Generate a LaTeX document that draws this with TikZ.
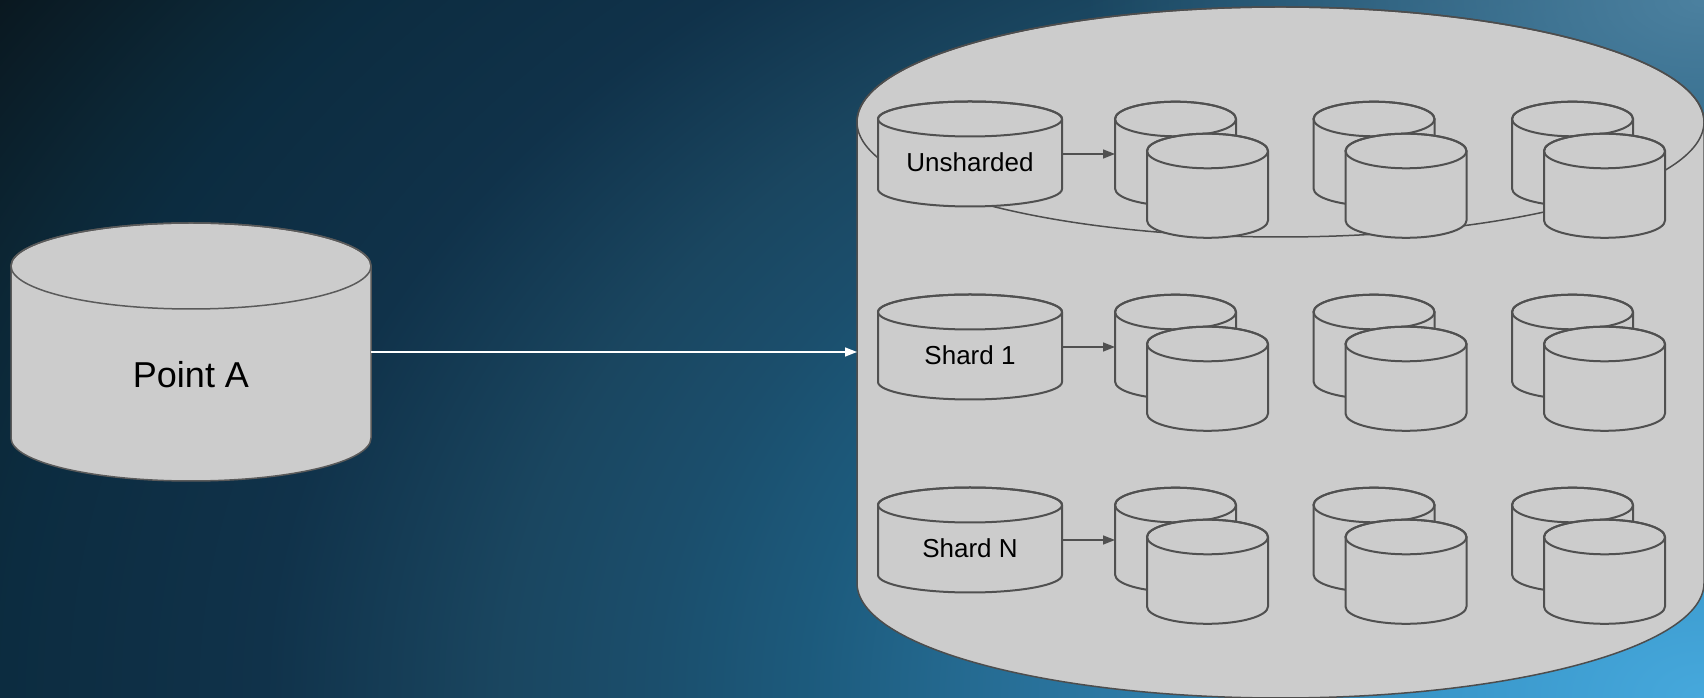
\documentclass[tikz,border=0pt]{standalone}
\usepackage{fontspec}
\setmainfont{Liberation Sans}
\usetikzlibrary{arrows.meta,fadings}
\definecolor{bg0}{HTML}{46A8DC}
\definecolor{bg1}{HTML}{3A98CB}
\definecolor{bg2}{HTML}{2C78A3}
\definecolor{bg3}{HTML}{1C5A7C}
\definecolor{bg4}{HTML}{1B4E6C}
\definecolor{bg5}{HTML}{1A4660}
\definecolor{bg6}{HTML}{10324A}
\definecolor{bg7}{HTML}{0C2C40}
\definecolor{bg8}{HTML}{0C2736}
\definecolor{bg9}{HTML}{0A1820}
\definecolor{glowc}{HTML}{4C81A0}
\definecolor{cylfill}{HTML}{CCCCCC}
\definecolor{edgebig}{HTML}{4D4D4D}
\definecolor{edgeA}{HTML}{5A5A5A}
\definecolor{edgesmall}{HTML}{505050}
\pgfdeclareradialshading{bgshade}{\pgfpoint{0bp}{0bp}}{color(0bp)=(bg0); color(2.976bp)=(bg1); color(7.143bp)=(bg2); color(10.714bp)=(bg3); color(12.5bp)=(bg4); color(14.286bp)=(bg5); color(17.143bp)=(bg6); color(20.238bp)=(bg7); color(21.429bp)=(bg8); color(23.81bp)=(bg9); color(50bp)=(bg9)}
\tikzfading[name=glowfade, inner color=transparent!0, outer color=transparent!100]
\tikzset{
  pics/cyl/.style n args={3}{code={
    \filldraw[fill=cylfill] (-#1,0) -- (-#1,-#3) arc[start angle=180,end angle=360,x radius=#1,y radius=#2] -- (#1,0) arc[start angle=0,end angle=180,x radius=#1,y radius=#2] -- cycle;
    \draw (0,0) ellipse[x radius=#1,y radius=#2];
    \node[inner sep=0pt,outer sep=0pt,minimum width=2*#1,minimum height=#3] (-b) at (0,-#3/2) {};
  }},
  bigcyl/.style={color=edgebig,line width=1.5pt},
  pointcyl/.style={color=edgeA,line width=1.5pt},
  smallcyl/.style={color=edgesmall,line width=2pt},
  bigtext/.style={text=black,font=\fontsize{36}{43}\selectfont},
  smalltext/.style={text=black,font=\fontsize{26}{31}\selectfont},
  whitearrow/.style={draw=white,line width=1.5pt,-{Triangle[length=12pt,width=9pt]}},
  grayarrow/.style={draw=edgesmall,line width=1.5pt,-{Triangle[length=12pt,width=9pt]}},
}
\begin{document}
\begin{tikzpicture}[x=1pt,y=1pt]
\useasboundingbox (0,0) rectangle (1704,698);
\begin{scope}
  \clip (0,0) rectangle (1704,698);
  \shade[shading=bgshade] (1704,0) ellipse[x radius=2100,y radius=1400];
  \fill[glowc,path fading=glowfade] (1704,698) ellipse[x radius=620,y radius=320];
\end{scope}
% big container cylinder
\pic[bigcyl] (big) at (1280.5,576) {cyl={423.5}{115}{461}};
% Point A
\pic[pointcyl] (pa) at (191,432) {cyl={180}{43}{172}};
\node[bigtext] (patext) at ([yshift=-23pt]pa-b.center) {Point A};
\draw[whitearrow] (pa-b.east) -- (pa-b.east -| big-b.west);
% rows
\foreach \r/\Y/\lab in {u/579/Unsharded,s/386/Shard 1,n/193/Shard N}{
  \pic[smallcyl] (\r L) at (970,\Y) {cyl={92}{17.5}{70}};
  \node[smalltext] (\r T) at ([yshift=-8.5pt]\r L-b.center) {\lab};
  \foreach \c/\x in {1/1175.5,2/1374,3/1572.5}{
    \pic[smallcyl] (\r B\c) at (\x,\Y) {cyl={60.5}{17.3}{69.5}};
    \pic[smallcyl] (\r F\c) at (\x+32,\Y-32) {cyl={60.5}{17.3}{69.5}};
  }
  \draw[grayarrow] (\r L-b.east) -- (\r L-b.east -| \r B1-b.west);
}
\end{tikzpicture}
\end{document}
